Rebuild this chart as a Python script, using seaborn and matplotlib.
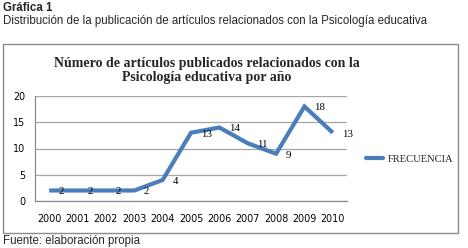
import matplotlib
matplotlib.use("Agg")
import matplotlib.pyplot as plt
import seaborn as sns
import numpy as np
import pandas as pd
from matplotlib.patches import Rectangle
from matplotlib.lines import Line2D

years = ["2000", "2001", "2002", "2003", "2004", "2005", "2006", "2007", "2008", "2009", "2010"]
frecuencia = [2, 2, 2, 2, 4, 13, 14, 11, 9, 18, 13]
yticks = [0, 5, 10, 15, 20]
series_name = "FRECUENCIA"
chart_title = "Número de artículos publicados relacionados con la\nPsicología educativa por año"
header1 = "Gráfica 1"
header2 = "Distribución de la publicación de artículos relacionados con la Psicología educativa"
footer = "Fuente: elaboración propia"

sns.set_theme(style="white")
plt.rcParams['font.family'] = ['Liberation Sans', 'DejaVu Sans']

W, H = 468, 248
fig = plt.figure(figsize=(W / 100, H / 100), dpi=100)

def fx(px):
    return px / W

def fy(py):
    return 1 - py / H

# header / footer texts
fig.text(fx(3), fy(8), header1, fontsize=8.3, fontweight='bold', ha='left', va='center',
         family='Liberation Sans')
fig.text(fx(3), fy(21), header2, fontsize=8.3, ha='left', va='center', family='Liberation Sans')
fig.text(fx(3), fy(241), footer, fontsize=8.3, ha='left', va='center', family='Liberation Sans')

# chart box
box = Rectangle((fx(3), fy(233)), fx(458) - fx(3), fy(44) - fy(233), transform=fig.transFigure,
                fill=False, edgecolor='#8C8C8C', linewidth=1.0)
fig.patches.append(box)

# title
fig.text(fx(206.5), fy(70), chart_title, fontsize=10.0, fontweight='bold', ha='center',
         va='center', family='Liberation Serif', linespacing=1.1)

ax = fig.add_axes([fx(35), fy(201), fx(347) - fx(35), fy(96) - fy(201)])
df = pd.DataFrame({"pos": np.arange(len(years)), "val": frecuencia})
line_color = '#4A7EBB'
sns.lineplot(data=df, x="pos", y="val", ax=ax, color=line_color, linewidth=3.0,
             solid_capstyle='butt', solid_joinstyle='miter')

for p, v in zip(df["pos"], df["val"]):
    ax.annotate(str(v), (p, v), xytext=(7, -1), textcoords='offset points', ha='left',
                va='center', fontsize=7.8, family='Liberation Serif', color='black')

ax.set_xlim(-0.5, len(years) - 0.5)
ax.set_ylim(0, 20)
ax.set_yticks(yticks)
ax.set_yticklabels([str(t) for t in yticks])
ax.set_xticks(np.arange(len(years)))
ax.set_xticklabels(years)
ax.set_xticks(np.arange(-0.5, len(years)), minor=True)
ax.tick_params(axis='x', which='major', length=0, pad=9, labelsize=6.9, labelcolor='black')
ax.tick_params(axis='x', which='minor', length=4, width=0.8, color='#8C8C8C', direction='out')
ax.tick_params(axis='y', which='major', length=4, width=0.8, color='#8C8C8C', direction='out',
               pad=3, labelsize=6.9, labelcolor='black')
for lab in ax.get_xticklabels() + ax.get_yticklabels():
    lab.set_family('DejaVu Sans')
ax.set_xlabel("")
ax.set_ylabel("")
ax.grid(axis='y', color='#A6A6A6', linewidth=0.9)
ax.grid(axis='x', visible=False)
ax.set_axisbelow(True)
for s in ['top', 'right']:
    ax.spines[s].set_visible(False)
for s in ['left', 'bottom']:
    ax.spines[s].set_color('#8C8C8C')
    ax.spines[s].set_linewidth(0.9)
ax.patch.set_alpha(0)

# legend
handle = Line2D([0], [0], color=line_color, linewidth=3.0)
fig.legend([handle], [series_name], loc='center left', bbox_to_anchor=(fx(362), fy(159)),
           frameon=False, handlelength=1.6, handletextpad=0.4, borderaxespad=0,
           prop={'family': 'Liberation Serif', 'size': 7.6})

fig.savefig("out.png", dpi=100)
